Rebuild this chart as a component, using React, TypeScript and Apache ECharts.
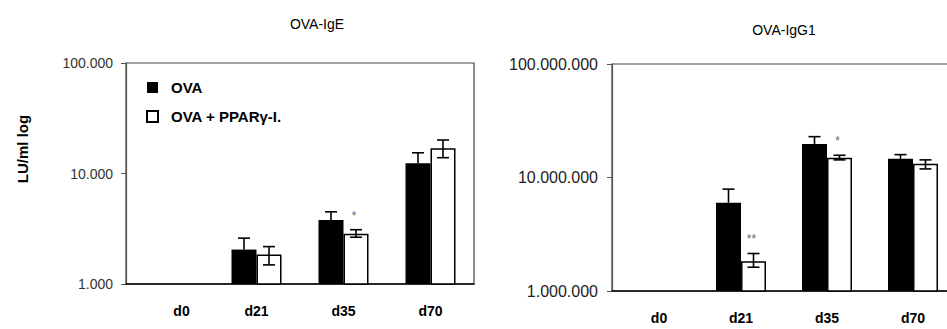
import React, { useEffect, useRef } from "react";
import * as echarts from "echarts";

const categories = ["d0", "d21", "d35", "d70"];

// OVA-IgE (left)
const igeOva = [null, 2050, 3800, 12400];
const igeOvaHigh = [null, 2600, 4500, 15400];
const igePpar = [null, 1850, 2850, 16900];
const igePparHigh = [null, 2180, 3100, 20100];
const igePparLow = [null, 1490, 2650, 13900];
const igeStars = ["", "", "*", ""];
const igeTickValues = [1000, 10000, 100000];
const igeTickLabels = ["1.000", "10.000", "100.000"];

// OVA-IgG1 (right)
const igg1Ova = [null, 6.0e6, 19.7e6, 14.6e6];
const igg1OvaHigh = [null, 7.9e6, 22.9e6, 15.9e6];
const igg1Ppar = [null, 1.83e6, 14.9e6, 13.2e6];
const igg1PparHigh = [null, 2.14e6, 15.7e6, 14.3e6];
const igg1PparLow = [null, 1.62e6, 14.3e6, 11.9e6];
const igg1Stars = ["", "**", "*", ""];
const igg1TickValues = [1e6, 1e7, 1e8];
const igg1TickLabels = ["1.000.000", "10.000.000", "100.000.000"];

const seriesNames = ["OVA", "OVA + PPARγ-I."];
const titles = ["OVA-IgE", "OVA-IgG1"];
const yName = "LU/ml log";

const FONT = "'Liberation Sans', Arial, Helvetica, sans-serif";
const BAR_W = 25;

function tickFormatter(values: number[], labels: string[]) {
  return (v: number) => {
    const i = values.findIndex((t) => Math.abs(Math.log10(t) - Math.log10(v)) < 1e-6);
    return i >= 0 ? labels[i] : "";
  };
}

function errData(ova: any[], ovaHigh: any[], ppar: any[], pparHigh: any[], pparLow: any[]) {
  const out: any[] = [];
  categories.forEach((_, i) => {
    if (ova[i] != null) out.push([i, ova[i], ovaHigh[i], -1]);
    if (ppar[i] != null) out.push([i, pparLow[i], pparHigh[i], 1]);
  });
  return out;
}

function makeRender(stars: string[]) {
  return (params: any, api: any) => {
    const x = api.value(0);
    const lo = api.value(1);
    const hi = api.value(2);
    const side = api.value(3);
    const top = api.coord([x, hi]);
    const bot = api.coord([x, lo]);
    const cx = top[0] + side * (BAR_W / 2);
    const st = { stroke: "#000", lineWidth: 1.6 };
    const children: any[] = [
      { type: "line", shape: { x1: cx, y1: top[1], x2: cx, y2: bot[1] }, style: st },
      { type: "line", shape: { x1: cx - 6, y1: top[1], x2: cx + 6, y2: top[1] }, style: st },
    ];
    if (side > 0) {
      children.push({ type: "line", shape: { x1: cx - 6, y1: bot[1], x2: cx + 6, y2: bot[1] }, style: st });
      const s = stars[x];
      if (s) {
        children.push({
          type: "text",
          x: cx - 2,
          y: top[1] - 14,
          style: { text: s, fill: "#666", font: `12px ${FONT}`, align: "center", verticalAlign: "middle" },
        });
      }
    }
    return { type: "group", children };
  };
}

const xData = (shift: number) =>
  categories.map((c, i) => (i === 0 ? { value: c, textStyle: { padding: [0, 0, 0, shift] } } : c));

export default function App() {
  const ref = useRef<HTMLDivElement>(null);
  useEffect(() => {
    if (!ref.current) return;
    const chart = echarts.init(ref.current, null, { renderer: "svg" });
    const xAxisCommon = {
      type: "category",
      axisTick: { show: false },
      axisLine: { lineStyle: { color: "#000", width: 1.5 } },
      axisLabel: { interval: 0, margin: 20, color: "#000", fontWeight: "bold", fontSize: 14, fontFamily: FONT },
    };
    const yAxisCommon = {
      type: "log",
      logBase: 10,
      splitLine: { show: false },
      axisLine: { show: true, lineStyle: { color: "#555", width: 1.2 } },
      axisTick: { show: true, length: 5, lineStyle: { color: "#555" } },
    };
    chart.setOption({
      animation: false,
      backgroundColor: "#fff",
      title: [
        { text: titles[0], left: 312, top: 12, textAlign: "center", textStyle: { fontSize: 14, fontWeight: "normal", color: "#000", fontFamily: FONT } },
        { text: titles[1], left: 779, top: 18, textAlign: "center", textStyle: { fontSize: 14, fontWeight: "normal", color: "#000", fontFamily: FONT } },
      ],
      legend: {
        orient: "vertical",
        left: 141,
        top: 75,
        itemWidth: 11,
        itemHeight: 11,
        itemGap: 14,
        icon: "rect",
        selectedMode: false,
        data: seriesNames,
        textStyle: { fontSize: 15, fontWeight: "bold", color: "#000", fontFamily: FONT, padding: [0, 0, 0, 8] },
      },
      graphic: [
        {
          type: "text",
          x: 22,
          y: 149,
          rotation: Math.PI / 2,
          style: { text: yName, font: `bold 15px ${FONT}`, fill: "#000", align: "center", verticalAlign: "middle" },
        },
      ],
      grid: [
        { left: 126, top: 63, width: 348, height: 221, show: true, borderColor: "#444", borderWidth: 1.2 },
        { left: 612, top: 64, width: 344, height: 227, show: true, borderColor: "#444", borderWidth: 1.2 },
      ],
      xAxis: [
        { ...xAxisCommon, gridIndex: 0, data: xData(24) },
        { ...xAxisCommon, gridIndex: 1, data: xData(8) },
      ],
      yAxis: [
        {
          ...yAxisCommon,
          gridIndex: 0,
          min: igeTickValues[0],
          max: igeTickValues[2],
          axisLabel: { margin: 13, color: "#333", fontSize: 14, fontFamily: FONT, formatter: tickFormatter(igeTickValues, igeTickLabels) },
        },
        {
          ...yAxisCommon,
          gridIndex: 1,
          min: igg1TickValues[0],
          max: igg1TickValues[2],
          axisLabel: { margin: 14, color: "#222", fontSize: 16, fontFamily: FONT, formatter: tickFormatter(igg1TickValues, igg1TickLabels) },
        },
      ],
      series: [
        { name: seriesNames[0], type: "bar", xAxisIndex: 0, yAxisIndex: 0, data: igeOva, barWidth: BAR_W, barGap: "0%", clip: true, itemStyle: { color: "#000" } },
        { name: seriesNames[1], type: "bar", xAxisIndex: 0, yAxisIndex: 0, data: igePpar, barWidth: BAR_W, barGap: "0%", clip: true, itemStyle: { color: "#fff", borderColor: "#000", borderWidth: 1.5 } },
        { name: seriesNames[0], type: "bar", xAxisIndex: 1, yAxisIndex: 1, data: igg1Ova, barWidth: BAR_W, barGap: "0%", clip: true, itemStyle: { color: "#000" } },
        { name: seriesNames[1], type: "bar", xAxisIndex: 1, yAxisIndex: 1, data: igg1Ppar, barWidth: BAR_W, barGap: "0%", clip: true, itemStyle: { color: "#fff", borderColor: "#000", borderWidth: 1.5 } },
        {
          type: "custom",
          xAxisIndex: 0,
          yAxisIndex: 0,
          z: 5,
          renderItem: makeRender(igeStars),
          encode: { x: 0, y: [1, 2] },
          data: errData(igeOva, igeOvaHigh, igePpar, igePparHigh, igePparLow),
        },
        {
          type: "custom",
          xAxisIndex: 1,
          yAxisIndex: 1,
          z: 5,
          renderItem: makeRender(igg1Stars),
          encode: { x: 0, y: [1, 2] },
          data: errData(igg1Ova, igg1OvaHigh, igg1Ppar, igg1PparHigh, igg1PparLow),
        },
      ],
    });
    return () => chart.dispose();
  }, []);
  return (
    <div style={{ position: "absolute", left: 0, top: 0, width: 947, height: 329, overflow: "hidden" }}>
      <div ref={ref} style={{ width: 962, height: 329 }} />
    </div>
  );
}
